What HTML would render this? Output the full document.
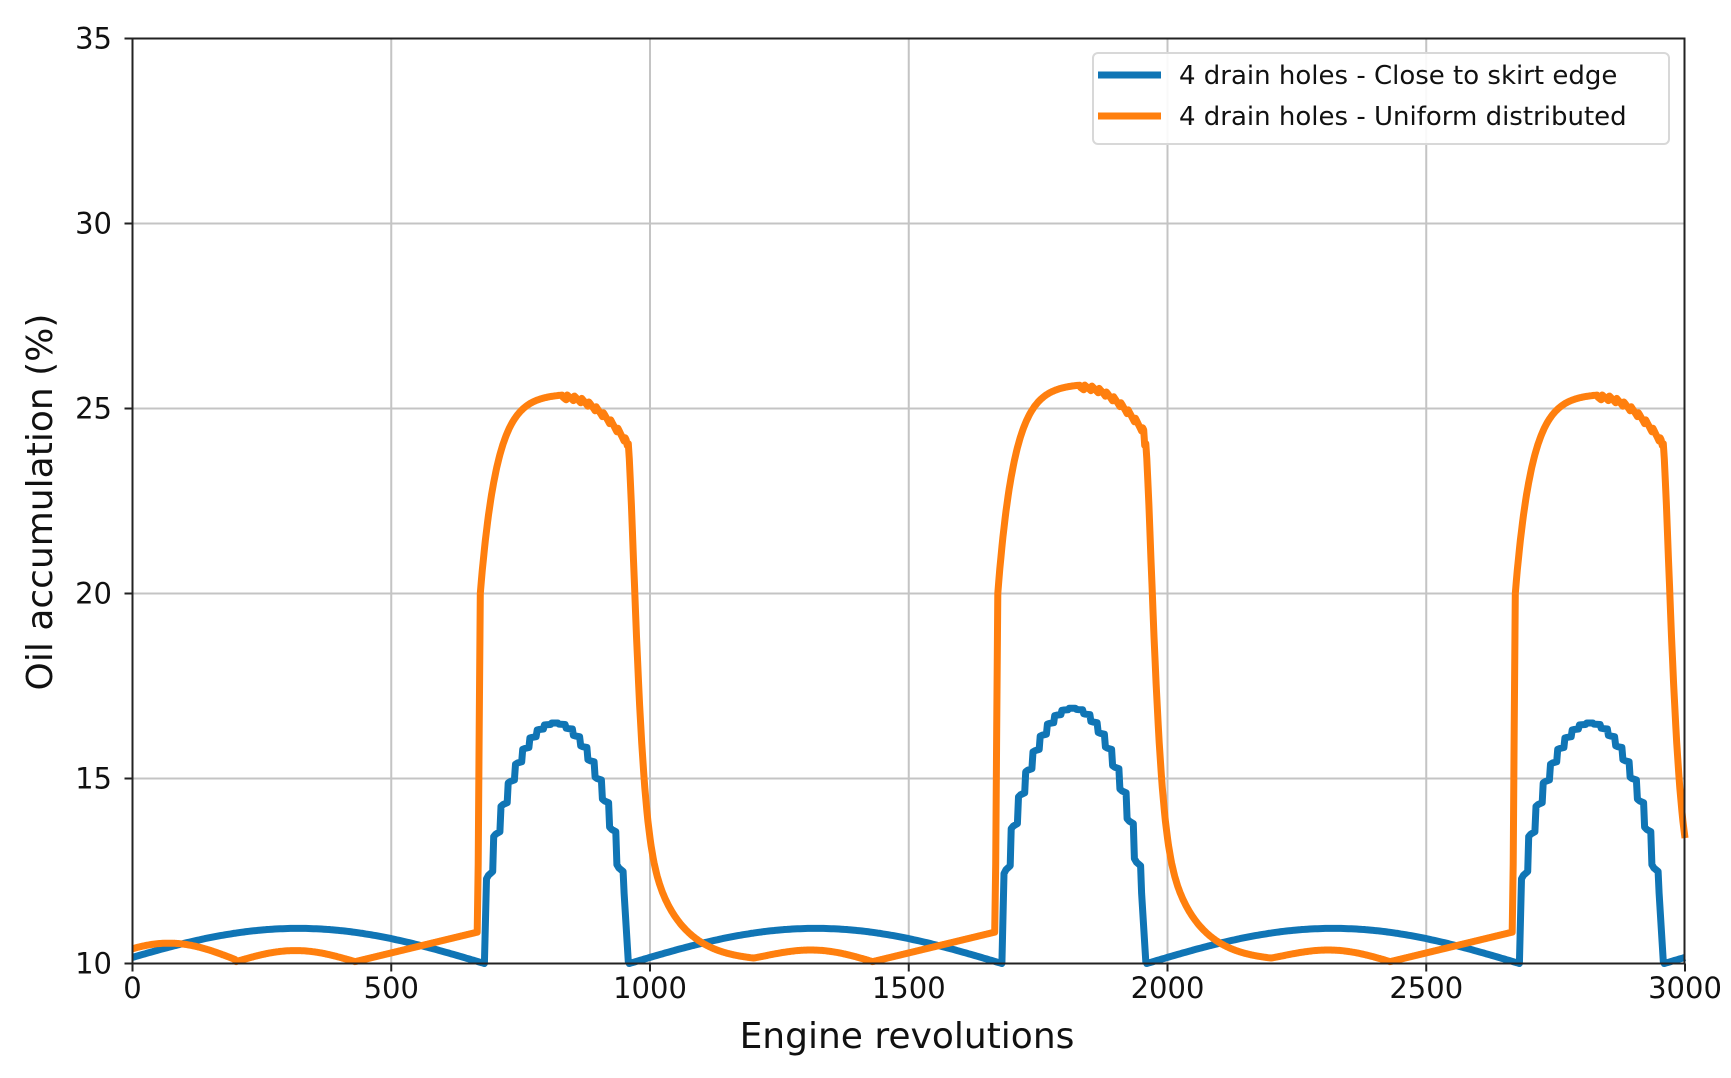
<!DOCTYPE html>
<html><head><meta charset="utf-8"><style>
html,body{margin:0;padding:0;background:#fff;}
svg text{font-family:"DejaVu Sans","Liberation Sans",sans-serif;fill:#111;}
</style></head><body>
<svg id="s" width="1731" height="1073" viewBox="0 0 1731 1073" xmlns="http://www.w3.org/2000/svg">
<g id="grid" stroke="#c4c4c4" stroke-width="2"></g>
<path id="blue" fill="none" stroke="#1075b5" stroke-width="7" stroke-linejoin="round"/>
<path id="orange" fill="none" stroke="#ff7f0e" stroke-width="7" stroke-linejoin="round"/>
<rect x="132.5" y="38.5" width="1552" height="925" fill="none" stroke="#222" stroke-width="2"/>
<g id="ticks" font-size="29"></g>
<text x="907" y="1048" font-size="36" text-anchor="middle">Engine revolutions</text>
<text transform="translate(52,502) rotate(-90)" font-size="36" text-anchor="middle">Oil accumulation (%)</text>
<rect x="1093" y="53" width="576" height="91" rx="5" fill="#fff" fill-opacity="0.9" stroke="#d8d8d8" stroke-width="2"/>
<line x1="1098" y1="75" x2="1161" y2="75" stroke="#1075b5" stroke-width="7"/>
<line x1="1098" y1="116" x2="1161" y2="116" stroke="#ff7f0e" stroke-width="7"/>
<text x="1179" y="84" font-size="26">4 drain holes - Close to skirt edge</text>
<text x="1179" y="125" font-size="26">4 drain holes - Uniform distributed</text>
</svg>
<script>
var X0=132.5,X1=1685,Y0=963.5,Y1=38.5;
function px(x){return X0+(X1-X0)*x/3000;}
function py(y){return Y0-(Y0-Y1)*(y-10)/25;}
var g=document.getElementById('grid'),tk=document.getElementById('ticks'),ns='http://www.w3.org/2000/svg';
function el(p,t,a){var e=document.createElementNS(ns,t);for(var k in a)e.setAttribute(k,a[k]);p.appendChild(e);return e;}
for(var i=0;i<=6;i++){var x=px(i*500);
 if(i>0&&i<6)el(g,'line',{x1:x,y1:Y1,x2:x,y2:Y0});
 el(tk,'line',{x1:x,y1:Y0,x2:x,y2:Y0+8,stroke:'#222','stroke-width':2});
 var t=el(tk,'text',{x:x,y:998,'text-anchor':'middle'});t.textContent=i*500;}
for(var j=0;j<=5;j++){var y=py(10+5*j);
 if(j>0&&j<5)el(g,'line',{x1:X0,y1:y,x2:X1,y2:y});
 el(tk,'line',{x1:X0-8,y1:y,x2:X0,y2:y,stroke:'#222','stroke-width':2});
 var t=el(tk,'text',{x:112,y:y+10,'text-anchor':'end'});t.textContent=10+5*j;}
var bp=[],BA=[6.5,6.9,6.5];
function arc(x){var s=((x-960)%1000+1000)%1000;return s<=720?10+0.95*Math.sin(Math.PI*s/720):10;}
for(var c=0;c<3;c++){var o=c*1000;
 var sStart=(c==0?0:o-40);
 for(var x=sStart;x<=o+680;x+=5)bp.push([x,arc(x)]);
 bp.push([o+680,10]);
 var A=BA[c];
 var env=function(t){var u=(t-680)/278;u=Math.max(0,Math.min(1,u));return 10+A*Math.pow(Math.sin(Math.PI*u),0.5);};
 for(var t=684;t<950;t+=14){var a=env(t+7),b=env(t+9);bp.push([o+t,a]);bp.push([o+t+4,a+(b-a)*0.5]);bp.push([o+t+12,b]);}
 bp.push([o+950,11.9]);bp.push([o+958,10.05]);}
bp.push([2960,10]);for(var x=2965;x<=3000;x+=5)bp.push([x,arc(x)]);
var op=[],OA=[1,1.05,1];
function tail(d){if(d<0)return 0;return 8.5*Math.exp(-Math.pow(d/22,1.5))+5.5*Math.exp(-d/60);}
for(var x=0;x<=3000;x+=2){
 var c=Math.floor(x/1000),t=x-c*1000,y;
 if(t<200){y=(c==0)?10.1+0.45*Math.sin(Math.PI*(t+60)/260):10.05+tail(t+42);if(c>0)y=Math.max(y,10.05);}
 else if(t<430)y=10.05+0.3*Math.sin(Math.PI*(t-200)/230)+(c>0?tail(t+42):0);
 else if(t<667)y=10.05+0.8*(t-430)/237;
 else if(t<672)y=10.85+(t-667)/5*9.15;
 else if(t<956){y=20+5.4*OA[c]*(1-Math.exp(-(t-672)/32));if(t>830)y-=0.00008*(t-830)*(t-830)+0.15*((t%14)/14);}
 else if(t<958)y=24;
 else y=10.05+tail(t-958);
 op.push([x,y]);}
function d(a){return a.map(function(p,i){return (i?'L':'M')+px(p[0]).toFixed(1)+' '+py(p[1]).toFixed(1);}).join('');}
document.getElementById('blue').setAttribute('d',d(bp));
document.getElementById('orange').setAttribute('d',d(op));
</script>
</body></html>
